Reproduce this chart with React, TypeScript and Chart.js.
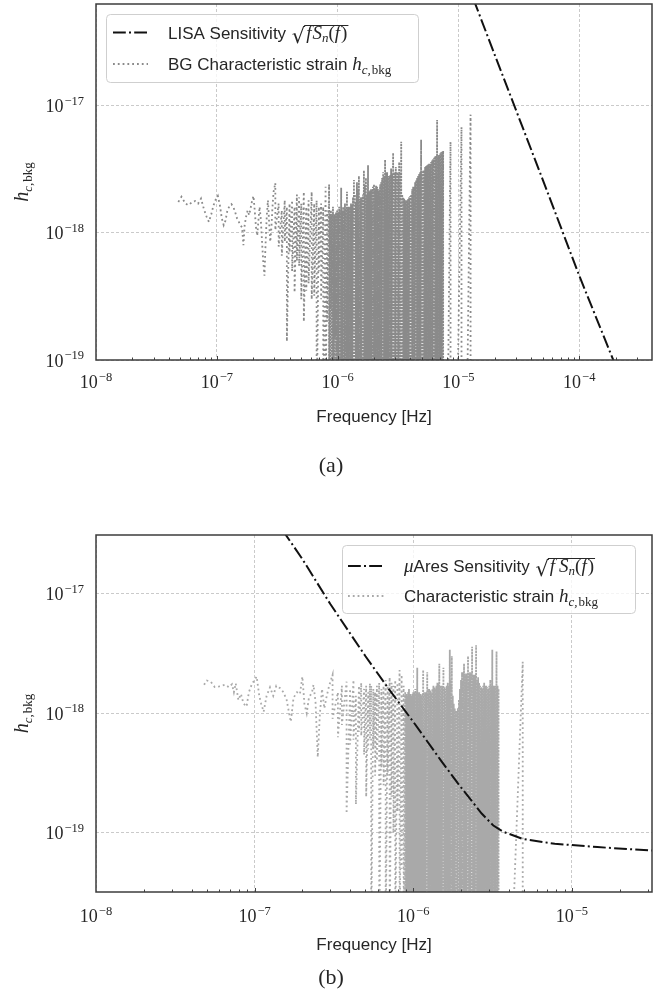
import { useEffect, useRef } from "react";
import { Chart, registerables } from "chart.js";

Chart.register(...registerables);

// ---------------- data ----------------
// Panel (a): LISA sensitivity sqrt(f Sn(f))
const lisaFreq = [1e-5, 2e-5, 5e-5, 1e-4, 2e-4, 4e-4];
const lisaSens = [1.4e-16, 2.5e-17, 2.6e-18, 4.6e-19, 9.0e-20, 1.6e-20];

// Panel (b): muAres sensitivity
const aresFreq = [1.5e-7, 2e-7, 3e-7, 5e-7, 7e-7, 1e-6, 1.5e-6, 2e-6, 2.7e-6, 3.2e-6, 3.7e-6, 4.9e-6, 7.8e-6, 1.45e-5, 3.2e-5];
const aresSens = [3.4e-17, 1.95e-17, 8.2e-18, 3.0e-18, 1.6e-18, 8.5e-19, 4.0e-19, 2.4e-19, 1.45e-19, 1.15e-19, 1.02e-19, 8.9e-20, 8.1e-20, 7.6e-20, 7.1e-20];

// Background characteristic strain: frequency in units of 1e-8 Hz, strain in units of 1e-19
const FREQ_UNIT = 1e-8;
const STRAIN_UNIT = 1e-19;

// panel (a) low-frequency part: [f, h]
const bgWavyA = [
  [4.8, 17.5], [5.1, 19.2], [5.5, 17.0], [5.8, 16.5], [6.2, 17.3], [6.6, 17.8], [7.0, 17.0], [7.4, 18.6],
  [7.8, 15.5], [8.2, 13.5], [8.6, 12.2], [9.0, 14.0], [9.4, 16.5], [9.8, 18.3], [10.2, 19.5], [10.6, 16.5],
  [11.0, 13.0], [11.4, 11.5], [11.8, 12.5], [12.2, 14.8], [12.7, 16.2], [13.2, 16.8], [13.7, 16.0], [14.2, 14.5],
  [14.7, 13.0], [15.2, 12.2], [15.7, 11.5], [16.2, 11.0], [16.6, 8.0], [17.0, 11.5], [17.5, 13.5], [18.0, 15.0],
  [18.5, 13.8], [19.0, 15.5], [19.5, 17.5], [20.1, 19.5], [20.6, 15.0], [21.1, 11.0], [21.6, 9.5], [22.1, 12.5],
  [22.6, 16.0], [23.1, 13.0], [23.6, 9.0], [24.2, 6.0], [24.8, 4.6], [25.3, 8.0], [25.9, 13.5], [26.5, 18.0],
  [27.1, 12.0], [27.7, 8.5], [28.3, 11.0], [28.9, 16.0], [29.5, 21.0],
];
// panel (a) spike columns: [f, top, bottom]
const bgSpikesA = [
  [30.5, 24.7, 10.5], [32.5, 17, 7.8], [34.5, 15, 6.6], [36.5, 18, 8.5], [38, 16, 1.4], [40, 17, 7], [42, 18, 5],
  [44, 16, 3.4], [46, 20, 6], [48, 19, 5.5], [50, 17, 3], [52.5, 21, 2], [55, 16, 3.5], [57.5, 18, 4], [61, 21, 3],
  [64, 17, 3.2], [67, 18, 0.3], [70, 16, 5], [73, 17, 3], [76, 16, 0.3], [79.5, 23, 0.3], [82, 15, 2],
  [85, 24, 0.3], [86.5, 14, 0.3], [88, 15, 2.5], [89.7, 14, 0.3], [91.5, 16, 0.3], [93.2, 14, 0.3], [95, 14, 1.5],
  [97, 14.5, 0.3], [99, 15, 0.3], [101, 14.5, 0.3], [103, 16, 0.3], [105, 15, 0.3], [107, 22.6, 0.3], [109, 15, 0.3],
  [111, 16, 0.3], [113, 15, 0.3], [115, 17, 0.3], [117, 15.5, 0.3], [119.5, 21, 0.3], [121.7, 16, 0.3], [124, 16, 0.3],
  [126.5, 16, 0.3], [129, 17, 0.3], [131.5, 16.5, 0.3], [134, 19, 0.3], [136.5, 26, 0.3], [139, 20, 0.3],
  [141.7, 17.5, 0.3], [144.5, 25, 0.3], [147.2, 22, 0.3], [150, 28, 0.3], [153, 18.5, 0.3], [156, 19, 0.3],
  [159, 19, 0.3], [162, 20, 0.3], [165, 31, 0.3], [168, 24, 0.3], [171.5, 27, 0.3], [175, 20, 0.3], [178.5, 34, 0.3],
  [182, 21, 0.3], [185.5, 21.5, 0.3], [189, 22, 0.3], [192.5, 22, 0.3], [196, 23, 0.3], [200, 24, 0.3], [204, 22, 0.3],
  [208, 23.5, 0.3], [212, 23, 0.3], [216, 22, 0.3], [220, 22, 0.3], [224.5, 24, 0.3], [229, 25, 0.3], [233.5, 27, 0.3],
  [238, 30, 0.3], [242.5, 28, 0.3], [247, 37.5, 0.3], [252, 30, 0.3], [257, 30, 0.3], [262, 28, 0.3], [267, 28, 0.3],
  [272, 28.5, 0.3], [277, 32, 0.3], [282.5, 29, 0.3], [288, 42.5, 0.3], [293.5, 30, 0.3], [299, 29, 0.3], [303, 33, 0.3],
  [311, 30, 0.3], [317, 29, 0.3], [323, 36, 0.3], [329.5, 30, 0.3], [336, 52, 0.3], [342.5, 20, 0.3], [349, 19, 0.3],
  [355.5, 18.5, 0.3], [362, 18, 0.3], [369, 18, 0.3], [376, 18, 0.3], [383.5, 18.5, 0.3], [391, 19, 0.3],
  [398.5, 19.5, 0.3], [406, 20, 0.3], [414, 22, 0.3], [422, 23, 0.3], [430, 23, 0.3], [438, 25, 0.3], [446.5, 26, 0.3],
  [455, 27, 0.3], [464, 28, 0.3], [473, 29, 0.3], [482, 30, 0.3], [491, 54, 0.3], [500.5, 30, 0.3], [510, 31, 0.3],
  [520, 31, 0.3], [530, 33, 0.3], [540.5, 33.5, 0.3], [551, 34, 0.3], [561.5, 34.5, 0.3], [572, 35, 0.3],
  [583, 35, 0.3], [594, 36, 0.3], [605.5, 37, 0.3], [617, 38, 0.3], [629, 39, 0.3], [641, 40, 0.3], [653.5, 40.5, 0.3],
  [666, 77, 0.3], [679, 40.5, 0.3], [692, 41, 0.3], [705.5, 42, 0.3], [719, 43, 0.3], [733, 43.5, 0.3], [747, 44, 0.0001],
  [860, 52, 0.0001], [1060, 68, 0.0001], [1260, 85, 0.0001],
];

// panel (b) low-frequency part: [f, h]
const bgWavyB = [
  [4.8, 17.3], [5.0, 18.8], [5.3, 18.3], [5.6, 16.6], [6.0, 16.8], [6.5, 17.3], [6.9, 16.5], [7.2, 17.5],
  [7.4, 15.0], [7.6, 17.8], [7.9, 12.9], [8.2, 14.5], [8.5, 12.1], [8.9, 11.4], [9.2, 15.0], [9.6, 17.5],
  [10.0, 19.0], [10.3, 20.3], [10.7, 14.0], [11.0, 12.0], [11.4, 10.3], [11.9, 14.0], [12.5, 16.5], [13.1, 14.0],
  [13.7, 17.0], [14.5, 16.2], [15.2, 15.0], [15.9, 13.0], [16.9, 8.5], [17.6, 13.5], [18.5, 15.0], [19.3, 14.5],
  [20.0, 20.3], [20.6, 12.0], [21.3, 10.0], [22.0, 13.5], [23.0, 15.0], [23.5, 17.3], [24.2, 12.5], [25.0, 4.3],
  [25.8, 10.0], [26.6, 16.0], [27.5, 11.0], [28.5, 14.0], [29.5, 17.0],
];
// panel (b) spike columns: [f, top, bottom]
const bgSpikesB = [
  [31, 21, 9], [33.5, 15, 6.3], [35.5, 17, 8], [38, 18.4, 1.45], [40, 16, 5.5], [42, 19, 6], [43.5, 14, 1.73],
  [45.5, 17, 7], [47, 18, 6.5], [49, 16, 4.5], [50.5, 17, 2.0], [52, 15, 5], [53.3, 17.8, 6], [54.3, 17, 0.1],
  [56, 16, 5], [57.5, 15, 3], [59, 17, 4], [61, 18, 0.1], [63, 16, 3.5], [65, 17, 2.5], [67, 19, 0.1], [69, 17, 3],
  [71, 20, 0.1], [73, 18, 2], [75, 17, 1], [77, 19, 0.1], [79.5, 18, 1.5], [82, 23, 0.1], [84.5, 21, 0.5], [87, 17, 0.1],
  [89, 15, 0.1], [90.2, 14.5, 0.1], [91.5, 14, 0.1], [92.7, 15, 0.1], [94, 16, 0.1], [95.5, 14.5, 0.1], [97, 14, 0.1],
  [98.5, 14.5, 0.1], [100, 15, 0.1], [101.5, 15, 0.1], [103, 16, 0.1], [104.5, 15, 0.1], [106, 24, 0.1], [107.5, 15, 0.1],
  [109, 15, 0.1], [110.5, 14.5, 0.1], [112, 14, 0.1], [113.7, 14.5, 0.1], [115.5, 23, 0.1], [117.2, 15, 0.1],
  [119, 15, 0.1], [120.7, 15, 0.1], [122.5, 22, 0.1], [124.2, 16, 0.1], [126, 16, 0.1], [128, 15.5, 0.1], [130, 15, 0.1],
  [132, 16, 0.1], [134, 17, 0.1], [136, 16.5, 0.1], [138, 16, 0.1], [140, 17, 0.1], [142, 18, 0.1], [144, 17.5, 0.1],
  [146, 26, 0.1], [148.2, 17, 0.1], [150.5, 17, 0.1], [152.7, 17, 0.1], [155, 24, 0.1], [157.5, 16.5, 0.1], [160, 16, 0.1],
  [162.5, 17, 0.1], [165, 18, 0.1], [167.5, 17, 0.1], [170, 34, 0.1], [172.5, 19, 0.1], [175, 30, 0.1], [177.5, 14, 0.1],
  [180, 12, 0.1], [182.7, 11, 0.1], [185.5, 10.5, 0.1], [188.2, 10.5, 0.1], [191, 11, 0.1], [194, 13, 0.1], [197, 16, 0.1],
  [200, 19, 0.1], [203, 22, 0.1], [206, 22, 0.1], [209, 26, 0.1], [212, 21.5, 0.1], [215, 21, 0.1], [218, 21.5, 0.1],
  [221.5, 30, 0.1], [224.7, 21.5, 0.1], [228, 22, 0.1], [231.5, 21.5, 0.1], [235, 36, 0.1], [238.5, 21, 0.1],
  [242, 21, 0.1], [245.5, 21, 0.1], [249, 37, 0.1], [252.7, 19, 0.1], [256.5, 20, 0.1], [260, 18, 0.1], [264, 17, 0.1],
  [268, 16.5, 0.1], [272, 16, 0.1], [276, 17, 0.1], [280, 18, 0.1], [284, 17, 0.1], [288.5, 17, 0.1], [292.7, 16.5, 0.1],
  [297, 16, 0.1], [301.5, 17, 0.1], [306, 19, 0.1], [310.5, 17, 0.1], [315, 34, 0.1], [320, 17, 0.1], [325, 17, 0.1],
  [330, 17, 0.1], [335, 33, 0.1], [340, 17, 0.1], [345, 16, 0.0001],
  [490, 27, 0.0001],
];

const xTicksA = [1e-8, 1e-7, 1e-6, 1e-5, 1e-4];
const xTicksB = [1e-8, 1e-7, 1e-6, 1e-5];
const yTicksA = [1e-19, 1e-18, 1e-17];
const yTicksB = [1e-19, 1e-18, 1e-17];

// ---------------- styling ----------------
const SERIF = "'Liberation Serif', 'DejaVu Serif', serif";
const SANS = "'Liberation Sans', Arial, sans-serif";
const TEXT = "#262626";
const DASHDOT = [12.8, 3.2, 2, 3.2];
const DOTTED = [1.8, 3.0];
const DOTTED_OVERPLOT = [2.2, 1.0];

type Run = { t: string; font: string; dy?: number; gap?: number };

interface Panel {
  canvasTop: number;
  height: number;
  areaTop: number;
  areaBottom: number;
  xMin: number;
  xMax: number;
  yMin: number;
  yMax: number;
  xTicks: number[];
  yTicks: number[];
  sensFreq: number[];
  sensVal: number[];
  wavy: number[][];
  spikes: number[][];
  bgColor: string;
  overplot: [number, number];
  caption: string;
  captionY: number;
  tickBaseline: number;
  xTitleY: number;
  legend: {
    x: number; y: number; w: number; h: number;
    s0: number; s1: number; tx: number;
    r1: number; r2: number; b1: number; b2: number;
    kind: "lisa" | "ares";
  };
}

const panelA: Panel = {
  canvasTop: 0, height: 500, areaTop: 4, areaBottom: 360,
  xMin: 1e-8, xMax: 4e-4, yMin: 1e-19, yMax: 6.3e-17,
  xTicks: xTicksA, yTicks: yTicksA,
  sensFreq: lisaFreq, sensVal: lisaSens,
  wavy: bgWavyA, spikes: bgSpikesA, bgColor: "#8a8a8a", overplot: [8.4e-7, 7.5e-6],
  caption: "(a)", captionY: 466, tickBaseline: 388, xTitleY: 417,
  legend: { x: 106, y: 14, w: 312, h: 68, s0: 113, s1: 148, tx: 168, r1: 32.5, r2: 64, b1: 39, b2: 70, kind: "lisa" },
};

const panelB: Panel = {
  canvasTop: 500, height: 500, areaTop: 35, areaBottom: 392,
  xMin: 1e-8, xMax: 3.2e-5, yMin: 3.2e-20, yMax: 3.1e-17,
  xTicks: xTicksB, yTicks: yTicksB,
  sensFreq: aresFreq, sensVal: aresSens,
  wavy: bgWavyB, spikes: bgSpikesB, bgColor: "#a9a9a9", overplot: [8.8e-7, 3.46e-6],
  caption: "(b)", captionY: 478, tickBaseline: 422, xTitleY: 445,
  legend: { x: 342, y: 45, w: 293, h: 68, s0: 348, s1: 385, tx: 404, r1: 66, r2: 96, b1: 72, b2: 102, kind: "ares" },
};

function buildBg(wavy: number[][], spikes: number[][]) {
  const pts: { x: number; y: number }[] = wavy.map(([f, h]) => ({ x: f * FREQ_UNIT, y: h * STRAIN_UNIT }));
  for (const [f, top, bottom] of spikes) {
    pts.push({ x: f * FREQ_UNIT, y: top * STRAIN_UNIT });
    pts.push({ x: f * FREQ_UNIT, y: bottom * STRAIN_UNIT });
  }
  return pts;
}

function drawRuns(ctx: CanvasRenderingContext2D, runs: Run[], x: number, y: number) {
  let cx = x;
  for (const r of runs) {
    ctx.font = r.font;
    ctx.fillText(r.t, cx, y + (r.dy || 0));
    cx += ctx.measureText(r.t).width + (r.gap || 0);
  }
  return cx;
}

function drawSqrt(ctx: CanvasRenderingContext2D, x: number, y: number, radicand: Run[]) {
  ctx.font = `21px 'DejaVu Serif', serif`;
  const m = ctx.measureText("\u221A");
  ctx.fillText("\u221A", x, y + 4);
  const top = y + 4 - m.actualBoundingBoxAscent;
  const end = drawRuns(ctx, radicand, x + m.width + 1, y);
  ctx.save();
  ctx.setLineDash([]);
  ctx.lineWidth = 1;
  ctx.strokeStyle = TEXT;
  ctx.beginPath();
  ctx.moveTo(x + m.width - 1, top + 0.5);
  ctx.lineTo(end + 1, top + 0.5);
  ctx.stroke();
  ctx.restore();
  return end;
}

function drawPow(ctx: CanvasRenderingContext2D, exp: number, x: number, y: number, align: "center" | "right") {
  const base = "10";
  const sup = "\u2212" + Math.abs(exp);
  ctx.font = `18px ${SERIF}`;
  const wb = ctx.measureText(base).width;
  ctx.font = `12.5px ${SERIF}`;
  const ws = ctx.measureText(sup).width;
  const total = wb + 1 + ws;
  const x0 = align === "center" ? x - total / 2 : x - total;
  ctx.font = `18px ${SERIF}`;
  ctx.fillText(base, x0, y);
  ctx.font = `12.5px ${SERIF}`;
  ctx.fillText(sup, x0 + wb + 1, y - 7.5);
}

function makeDecor(p: Panel) {
  return {
    id: "decor" + p.caption,
    afterDraw(chart: any) {
      const { ctx, chartArea: a, scales } = chart;
      const xs = scales.x;
      const ys = scales.y;
      ctx.save();
      ctx.textAlign = "left";
      ctx.textBaseline = "alphabetic";

      // inner ticks on the bottom spine
      ctx.strokeStyle = "#404040";
      ctx.lineWidth = 1;
      for (let e = -9; e <= -3; e++) {
        for (let k = 1; k <= 9; k++) {
          const v = k * Math.pow(10, e);
          if (v <= p.xMin * 1.0001 || v >= p.xMax) continue;
          const px = Math.round(xs.getPixelForValue(v)) + 0.5;
          const len = k === 1 ? 4 : 2.5;
          ctx.beginPath();
          ctx.moveTo(px, a.bottom);
          ctx.lineTo(px, a.bottom - len);
          ctx.stroke();
        }
      }
      // frame
      ctx.strokeStyle = "#3c3c3c";
      ctx.lineWidth = 1.5;
      ctx.strokeRect(a.left, a.top, a.right - a.left, a.bottom - a.top);

      // tick labels
      ctx.fillStyle = TEXT;
      for (const v of p.xTicks) {
        drawPow(ctx, Math.round(Math.log10(v)), xs.getPixelForValue(v), p.tickBaseline, "center");
      }
      for (const v of p.yTicks) {
        drawPow(ctx, Math.round(Math.log10(v)), a.left - 12, ys.getPixelForValue(v) + 6.5, "right");
      }

      // x title
      ctx.font = `17px ${SANS}`;
      ctx.textAlign = "center";
      ctx.textBaseline = "middle";
      ctx.fillText("Frequency [Hz]", (a.left + a.right) / 2, p.xTitleY);

      // caption
      ctx.font = `22px ${SERIF}`;
      ctx.fillText(p.caption, 331, p.captionY);

      // y title (rotated)
      ctx.save();
      ctx.translate(22, (a.top + a.bottom) / 2);
      ctx.rotate(-Math.PI / 2);
      ctx.textAlign = "left";
      ctx.textBaseline = "alphabetic";
      const yRuns: Run[] = [
        { t: "h", font: `italic 20px ${SERIF}` },
        { t: "c,", font: `italic 13px ${SERIF}`, dy: 4, gap: 1 },
        { t: "bkg", font: `13px ${SERIF}`, dy: 4 },
      ];
      let tw = 0;
      for (const r of yRuns) {
        ctx.font = r.font;
        tw += ctx.measureText(r.t).width + (r.gap || 0);
      }
      drawRuns(ctx, yRuns, -tw / 2, 6);
      ctx.restore();

      // legend
      const L = p.legend;
      ctx.save();
      ctx.beginPath();
      ctx.roundRect(L.x + 0.5, L.y + 0.5, L.w, L.h, 4);
      ctx.fillStyle = "rgba(255,255,255,0.8)";
      ctx.fill();
      ctx.strokeStyle = "#cfcfcf";
      ctx.lineWidth = 1;
      ctx.stroke();

      ctx.strokeStyle = "#111111";
      ctx.lineWidth = 2;
      ctx.setLineDash(DASHDOT);
      ctx.beginPath();
      ctx.moveTo(L.s0, L.r1);
      ctx.lineTo(L.s1, L.r1);
      ctx.stroke();

      ctx.strokeStyle = p.bgColor;
      ctx.lineWidth = 1.8;
      ctx.setLineDash(DOTTED);
      ctx.beginPath();
      ctx.moveTo(L.s0, L.r2);
      ctx.lineTo(L.s1, L.r2);
      ctx.stroke();
      ctx.setLineDash([]);

      ctx.fillStyle = TEXT;
      ctx.textAlign = "left";
      ctx.textBaseline = "alphabetic";
      const sans = `17px ${SANS}`;
      const it = `italic 19px ${SERIF}`;
      const rm = `19px ${SERIF}`;
      const subIt = `italic 13px ${SERIF}`;
      const subRm = `13px ${SERIF}`;
      if (L.kind === "lisa") {
        const e1 = drawRuns(ctx, [{ t: "LISA Sensitivity ", font: sans }], L.tx, L.b1);
        drawSqrt(ctx, e1 + 1, L.b1, [
          { t: "f", font: it, gap: 1 },
          { t: "S", font: it },
          { t: "n", font: subIt, dy: 3 },
          { t: "(", font: rm },
          { t: "f", font: it, gap: 1 },
          { t: ")", font: rm },
        ]);
        drawRuns(ctx, [
          { t: "BG Characteristic strain ", font: sans },
          { t: "h", font: it },
          { t: "c,", font: subIt, dy: 4, gap: 1 },
          { t: "bkg", font: subRm, dy: 4 },
        ], L.tx, L.b2);
      } else {
        const e1 = drawRuns(ctx, [
          { t: "\u03BC", font: it },
          { t: "Ares Sensitivity ", font: sans },
        ], L.tx, L.b1);
        drawSqrt(ctx, e1 + 1, L.b1, [
          { t: "f", font: it, gap: 4 },
          { t: "S", font: it },
          { t: "n", font: subIt, dy: 3 },
          { t: "(", font: rm },
          { t: "f", font: it, gap: 1 },
          { t: ")", font: rm },
        ]);
        drawRuns(ctx, [
          { t: "Characteristic strain ", font: sans },
          { t: "h", font: it },
          { t: "c,", font: subIt, dy: 4, gap: 1 },
          { t: "bkg", font: subRm, dy: 4 },
        ], L.tx, L.b2);
      }
      ctx.restore();
      ctx.restore();
    },
  };
}

function makeConfig(p: Panel): any {
  const sensPts = p.sensFreq.map((f, i) => ({ x: f, y: p.sensVal[i] }));
  const bgPts = buildBg(p.wavy, p.spikes);
  const gridCommon = { color: "#bdbdbd", lineWidth: 0.8, drawTicks: false };
  const [o0, o1] = p.overplot;
  return {
    type: "scatter",
    data: {
      datasets: [
        {
          label: p.legend.kind === "lisa" ? "LISA Sensitivity" : "\u03BCAres Sensitivity",
          data: sensPts,
          showLine: true,
          borderColor: "#111111",
          borderWidth: 2,
          borderDash: DASHDOT,
          pointRadius: 0,
          pointHoverRadius: 0,
          tension: 0,
        },
        {
          label: "Characteristic strain",
          data: bgPts,
          showLine: true,
          borderColor: p.bgColor,
          borderWidth: 1.8,
          borderDash: DOTTED,
          pointRadius: 0,
          pointHoverRadius: 0,
          tension: 0,
          segment: {
            // heavily over-plotted band: the dots merge into an almost solid fill
            borderDash: (c: any) => {
              const x0 = c.p0.parsed.x;
              const x1 = c.p1.parsed.x;
              return x0 >= o0 && x1 <= o1 ? DOTTED_OVERPLOT : undefined;
            },
          },
        },
      ],
    },
    options: {
      animation: false,
      responsive: false,
      events: [],
      layout: { padding: { top: p.areaTop, right: 10, left: 0, bottom: 0 } },
      plugins: { legend: { display: false }, tooltip: { enabled: false }, title: { display: false } },
      scales: {
        x: {
          type: "logarithmic",
          min: p.xMin,
          max: p.xMax,
          afterBuildTicks: (s: any) => {
            s.ticks = p.xTicks.map((v) => ({ value: v }));
          },
          afterFit: (s: any) => {
            s.height = p.height - p.areaBottom;
          },
          ticks: { display: false },
          grid: gridCommon,
          border: { display: false, dash: [3, 2] },
        },
        y: {
          type: "logarithmic",
          min: p.yMin,
          max: p.yMax,
          afterBuildTicks: (s: any) => {
            s.ticks = p.yTicks.map((v) => ({ value: v }));
          },
          afterFit: (s: any) => {
            s.width = 96;
          },
          ticks: { display: false },
          grid: gridCommon,
          border: { display: false, dash: [3, 2] },
        },
      },
    },
    plugins: [makeDecor(p)],
  };
}

function PanelChart({ p }: { p: Panel }) {
  const ref = useRef<HTMLCanvasElement>(null);
  useEffect(() => {
    const chart = new Chart(ref.current as HTMLCanvasElement, makeConfig(p));
    return () => chart.destroy();
  }, [p]);
  return (
    <canvas
      ref={ref}
      width={662}
      height={p.height}
      style={{ position: "absolute", left: 0, top: p.canvasTop, width: 662, height: p.height }}
    />
  );
}

export default function App() {
  return (
    <div style={{ position: "absolute", left: 0, top: 0, width: 662, height: 1000, background: "#ffffff", overflow: "hidden" }}>
      <PanelChart p={panelA} />
      <PanelChart p={panelB} />
    </div>
  );
}
